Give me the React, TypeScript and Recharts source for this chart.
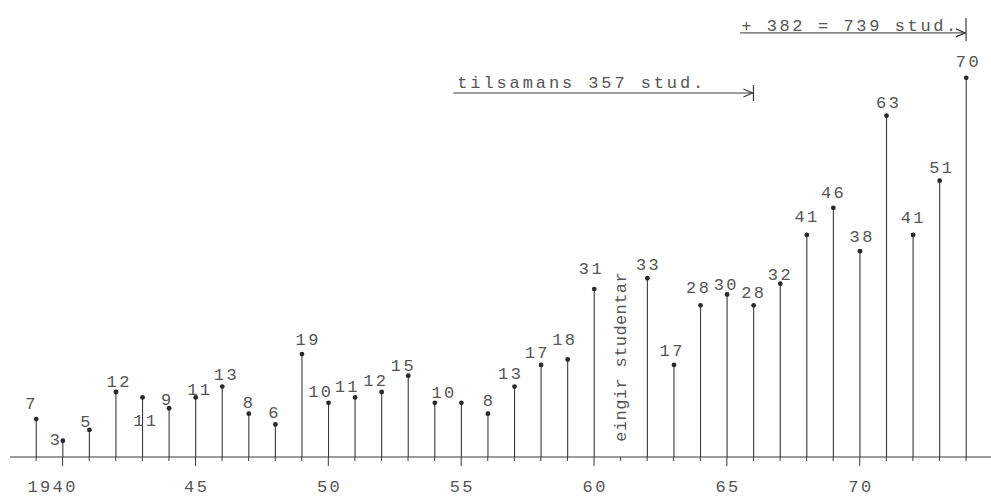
import { BarChart, Bar, XAxis, YAxis, LabelList, ReferenceLine } from "recharts";

// students per year (1961: none)
const years = [
  1939, 1940, 1941, 1942, 1943, 1944, 1945, 1946, 1947, 1948, 1949, 1950,
  1951, 1952, 1953, 1954, 1955, 1956, 1957, 1958, 1959, 1960, 1961, 1962,
  1963, 1964, 1965, 1966, 1967, 1968, 1969, 1970, 1971, 1972, 1973, 1974,
];
const students = [
  7, 3, 5, 12, 11, 9, 11, 13, 8, 6, 19, 10, 11, 12, 15, 10, 10, 8, 13, 17, 18,
  31, null, 33, 17, 28, 30, 28, 32, 41, 46, 38, 63, 41, 51, 70,
];
const tickLabels: Record<number, string> = {
  1940: "1940",
  1945: "45",
  1950: "50",
  1955: "55",
  1960: "60",
  1965: "65",
  1970: "70",
};
const firstTotalText = "tilsamans 357 stud.";
const grandTotalText = "+ 382 = 739 stud.";
const noStudentsText = "eingir studentar";

const data = years.map((year, i) => ({ year, students: students[i] }));

const FONT = "'Liberation Mono', 'DejaVu Sans Mono', monospace";
const INK = "#3a3a3a";
const TEXT = "#555";

// hand-typed label placement (label centre relative to the dot)
const labelOffset: Record<number, [number, number]> = {
  1939: [-6, -16], 1940: [-8, -2], 1941: [-4, -9], 1942: [2, -11],
  1943: [2, 23], 1944: [-3, -9], 1945: [3, -8], 1946: [3, -13],
  1947: [-1, -12], 1948: [-2, -13], 1949: [5, -15], 1950: [-9, -12],
  1951: [-9, -11], 1952: [-7, -12], 1953: [-6, -11], 1954: [8, -11],
  1956: [0, -14], 1957: [-5, -14], 1958: [-5, -13], 1959: [-4, -21],
  1960: [-4, -21], 1962: [-3, -15], 1963: [-3, -18], 1964: [-2, -11],
  1965: [-1, -13], 1966: [-1, -10], 1967: [-1, -19], 1968: [-1, -16],
  1969: [1, -15], 1970: [1, -14], 1971: [-1, -18], 1972: [1, -14],
  1973: [1, -17], 1974: [0, -20],
};
const hiddenLabels = [1955];

const Stem = (props: any) => {
  const { x, y, width, height } = props;
  if (height == null || isNaN(height)) return null;
  const cx = x + width / 2;
  return (
    <g>
      <line x1={cx} x2={cx} y1={y} y2={y + height} stroke={INK} strokeWidth={1.1} />
      <circle cx={cx} cy={y} r={2.4} fill="#2a2a2a" />
    </g>
  );
};

const ValueLabel = (props: any) => {
  const { x, y, width, value, index } = props;
  if (value == null) return null;
  const year = years[index];
  if (hiddenLabels.includes(year)) return null;
  const [dx, dy] = labelOffset[year] || [0, -14];
  return (
    <text
      x={x + width / 2 + dx + 1.2}
      y={y + dy + 6}
      textAnchor="middle"
      fontFamily={FONT}
      fontSize={17}
      letterSpacing={2.4}
      fill={TEXT}
    >
      {value}
    </text>
  );
};

const YearTick = (props: any) => {
  const { x, y, payload } = props;
  const label = tickLabels[payload.value];
  return (
    <g>
      <line x1={x} x2={x} y1={y} y2={y + (label ? 9 : 4)} stroke={INK} strokeWidth={1} />
      {label && (
        <text
          x={x + (payload.value === 1940 ? -10 : 1.2)}
          y={y + 35}
          textAnchor="middle"
          fontFamily={FONT}
          fontSize={17}
          letterSpacing={2.4}
          fill={TEXT}
        >
          {label}
        </text>
      )}
    </g>
  );
};

const arrowShape =
  (text: string, textDx: number, textDy: number, spacing: number, barUp: number) =>
  (props: any) => {
    const { x1, y1, x2, y2 } = props;
    return (
      <g>
        <line x1={x1} y1={y1} x2={x2} y2={y2} stroke={INK} strokeWidth={1} />
        <polyline
          points={`${x2 - 10},${y2 - 4} ${x2 - 1},${y2} ${x2 - 10},${y2 + 4}`}
          fill="none"
          stroke={INK}
          strokeWidth={1.2}
        />
        <line x1={x2} x2={x2} y1={y2 - barUp} y2={y2 + 8} stroke={INK} strokeWidth={1.2} />
        <text
          x={x1 + textDx}
          y={y1 - textDy}
          fontFamily={FONT}
          fontSize={17}
          letterSpacing={spacing}
          fill={TEXT}
        >
          {text}
        </text>
      </g>
    );
  };

const verticalTextShape = (props: any) => {
  const { x1, y1, y2 } = props;
  const cy = (y1 + y2) / 2;
  return (
    <text
      x={x1 + 5}
      y={cy}
      transform={`rotate(-90 ${x1 + 5} ${cy})`}
      textAnchor="middle"
      fontFamily={FONT}
      fontSize={17}
      letterSpacing={0.4}
      fill={TEXT}
    >
      {noStudentsText}
    </text>
  );
};

export default function App() {
  return (
    <div style={{ position: "absolute", left: 0, top: 0, background: "#fff" }}>
      <BarChart
        width={991}
        height={498}
        data={data}
        margin={{ top: 2, right: 0, left: 10, bottom: 0 }}
        barSize={5}
      >
        <XAxis
          type="number"
          dataKey="year"
          domain={[1938.02, 1974.94]}
          allowDataOverflow
          ticks={years}
          interval={0}
          height={41}
          tickSize={0}
          tickMargin={0}
          tickLine={false}
          axisLine={{ stroke: INK, strokeWidth: 1.2 }}
          tick={<YearTick />}
        />
        <YAxis hide domain={[0, 84]} allowDataOverflow />
        <Bar dataKey="students" shape={<Stem />} isAnimationActive={false}>
          <LabelList dataKey="students" content={<ValueLabel />} />
        </Bar>
        <ReferenceLine
          segment={[
            { x: 1954.7, y: 67.2 },
            { x: 1966, y: 67.2 },
          ]}
          ifOverflow="visible"
          shape={arrowShape(firstTotalText, 4, 5, 2.9, 8)}
        />
        <ReferenceLine
          segment={[
            { x: 1965.5, y: 78.3 },
            { x: 1974, y: 78.3 },
          ]}
          ifOverflow="visible"
          shape={arrowShape(grandTotalText, 1, 2, 2.6, 15)}
        />
        <ReferenceLine
          segment={[
            { x: 1961, y: 2.8 },
            { x: 1961, y: 34.2 },
          ]}
          ifOverflow="visible"
          shape={verticalTextShape}
        />
      </BarChart>
    </div>
  );
}
